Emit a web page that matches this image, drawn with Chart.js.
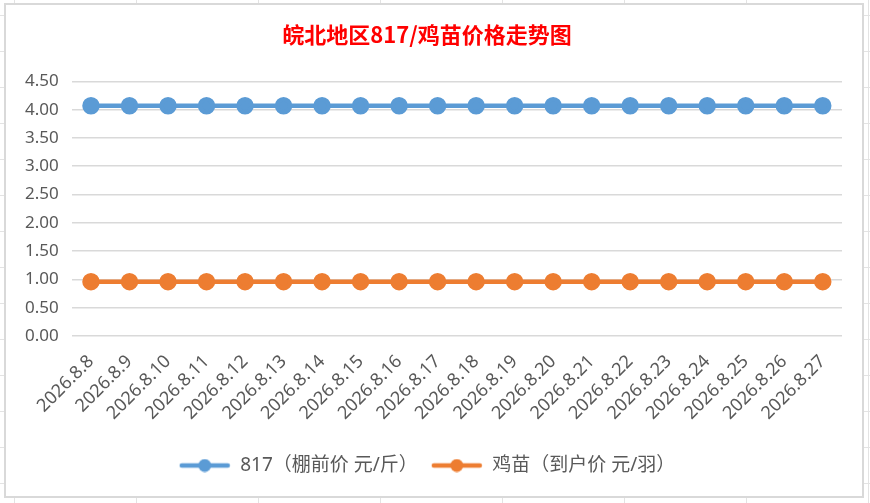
<!DOCTYPE html>
<html lang="zh">
<head>
    <meta charset="UTF-8">
    <title>皖北地区817/鸡苗价格走势图</title>
    <script src="https://cdn.jsdelivr.net/npm/chart.js"></script>
    <style>
        html, body { margin: 0; padding: 0; }
        body {
            width: 870px; height: 503px; overflow: hidden; position: relative;
            background-color: #fff;
            background-image:
                repeating-linear-gradient(to right, transparent 0 14px, #e3e3e3 14px 15px, transparent 15px 122px),
                repeating-linear-gradient(to bottom, transparent 0 15px, #e3e3e3 15px 16px, transparent 16px 36px);
        }
        .frame {
            position: absolute; left: 4px; top: 3px; width: 860px; height: 495px;
            box-sizing: border-box; border: 2px solid #d9d9d9; background: #fff;
        }
        canvas { display: block; }
    </style>
</head>
<body>
    <div class="frame"><canvas id="priceChart" width="856" height="491"></canvas></div>

    <script>
        // data
        const dates = ['2026.8.8', '2026.8.9', '2026.8.10', '2026.8.11', '2026.8.12', '2026.8.13', '2026.8.14',
                       '2026.8.15', '2026.8.16', '2026.8.17', '2026.8.18', '2026.8.19', '2026.8.20', '2026.8.21',
                       '2026.8.22', '2026.8.23', '2026.8.24', '2026.8.25', '2026.8.26', '2026.8.27'];
        const price817 = [4.07, 4.07, 4.07, 4.07, 4.07, 4.07, 4.07, 4.07, 4.07, 4.07,
                          4.07, 4.07, 4.07, 4.07, 4.07, 4.07, 4.07, 4.07, 4.07, 4.07];
        const chickPrice = [0.96, 0.96, 0.96, 0.96, 0.96, 0.96, 0.96, 0.96, 0.96, 0.96,
                            0.96, 0.96, 0.96, 0.96, 0.96, 0.96, 0.96, 0.96, 0.96, 0.96];
        const seriesNames = ['817（棚前价 元/斤）', '鸡苗（到户价 元/羽）'];

        const FONT = '"Noto Sans", "Noto Sans CJK SC", sans-serif';

        // little line-with-dot image for the legend
        function legendMark(color) {
            const c = document.createElement('canvas');
            c.width = 52; c.height = 14;
            const g = c.getContext('2d');
            g.strokeStyle = color; g.lineWidth = 4.5; g.lineCap = 'round';
            g.beginPath(); g.moveTo(3, 7); g.lineTo(49, 7); g.stroke();
            g.fillStyle = color;
            g.beginPath(); g.arc(26, 7, 6.5, 0, Math.PI * 2); g.fill();
            return c;
        }

        const ctx = document.getElementById('priceChart').getContext('2d');
        const priceChart = new Chart(ctx, {
            type: 'line',
            data: {
                labels: dates,
                datasets: [
                    {
                        label: seriesNames[0],
                        data: price817,
                        borderColor: '#5B9BD5',
                        backgroundColor: '#5B9BD5',
                        borderWidth: 4.5,
                        pointRadius: 6.5,
                        pointHoverRadius: 6.5,
                        pointStyle: 'circle',
                        fill: false
                    },
                    {
                        label: seriesNames[1],
                        data: chickPrice,
                        borderColor: '#ED7D31',
                        backgroundColor: '#ED7D31',
                        borderWidth: 4.5,
                        pointRadius: 6.5,
                        pointHoverRadius: 6.5,
                        pointStyle: 'circle',
                        fill: false
                    }
                ]
            },
            options: {
                responsive: false,
                animation: false,
                layout: { padding: { left: 6, right: 20, top: 4, bottom: 11 } },
                plugins: {
                    title: {
                        display: true,
                        text: '皖北地区817/鸡苗价格走势图',
                        color: '#FF0000',
                        font: { family: '"Noto Sans CJK SC", sans-serif', size: 22, weight: 'bold' },
                        padding: { top: 12, bottom: 34 }
                    },
                    legend: {
                        position: 'bottom',
                        labels: {
                            color: '#595959',
                            font: { family: FONT, size: 19 },
                            usePointStyle: true,
                            pointStyleWidth: 52,
                            boxHeight: 14,
                            generateLabels: (chart) => chart.data.datasets.map((ds, i) => ({
                                text: ds.label,
                                fontColor: '#595959',
                                pointStyle: legendMark(ds.borderColor),
                                strokeStyle: 'transparent',
                                fillStyle: 'transparent',
                                lineWidth: 0,
                                datasetIndex: i
                            })),
                            padding: 13
                        }
                    },
                    tooltip: { enabled: false }
                },
                scales: {
                    x: {
                        offset: true,
                        grid: { display: false },
                        border: { display: false },
                        ticks: {
                            color: '#595959',
                            font: { family: FONT, size: 18 },
                            minRotation: 45,
                            maxRotation: 45,
                            padding: 7
                        },
                        // leave the empty band between the dates and the legend
                        afterFit: (scale) => { scale.height += 12; }
                    },
                    y: {
                        min: 0,
                        max: 4.5,
                        grid: { color: '#d9d9d9', lineWidth: 1.5, drawTicks: false },
                        border: { display: false },
                        ticks: {
                            stepSize: 0.5,
                            color: '#595959',
                            font: { family: FONT, size: 17 },
                            padding: 13,
                            callback: (v) => v.toFixed(2)
                        }
                    }
                }
            }
        });
    </script>
</body>
</html>
